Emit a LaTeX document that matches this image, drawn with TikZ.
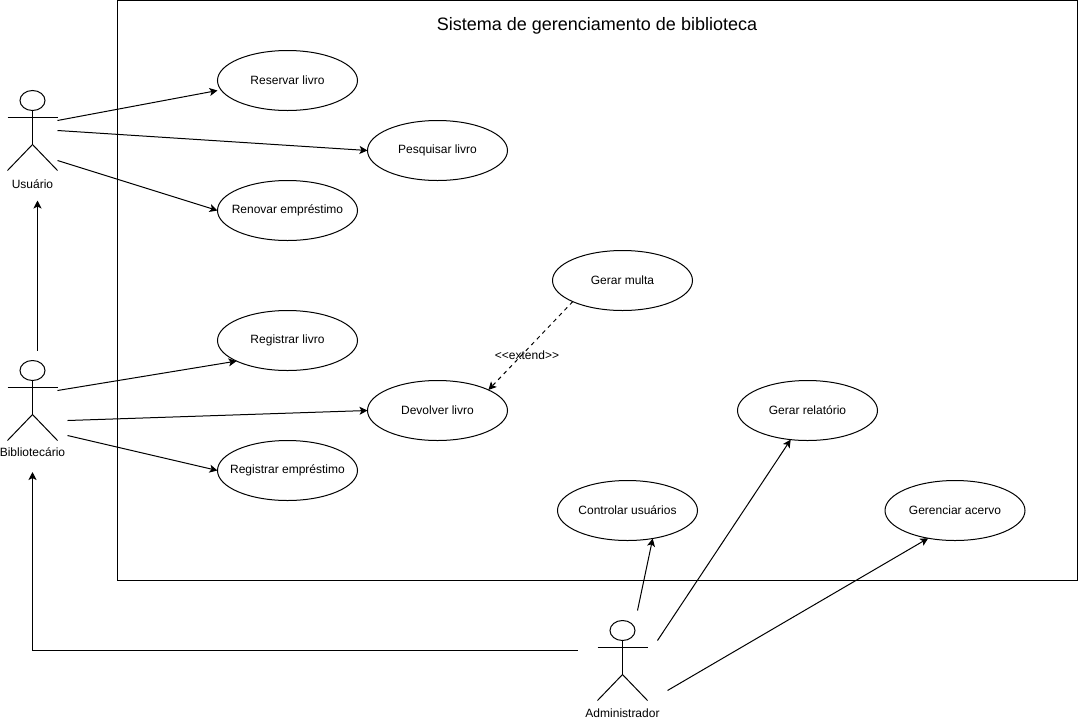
\documentclass[tikz,border=0pt]{standalone}
\usepackage{fontspec}
\setmainfont{Liberation Sans}
\usetikzlibrary{arrows.meta}
\usetikzlibrary{shapes.geometric}
\tikzset{l/.style={font=\fontsize{9}{9}\selectfont}}
\tikzset{t/.style={font=\fontsize{13.5}{13.5}\selectfont}}
\tikzset{uc/.style={l,draw,ellipse,minimum width=105pt,minimum height=45pt,inner xsep=-8pt,inner ysep=0pt,outer sep=0pt}}
\tikzset{actor/.pic={
  \draw (0,-17) ellipse (12.5 and 10);
  \draw (-25,0)--(25,0);
  \draw (0,-7)--(0,27);
  \draw (-25,53)--(0,27)--(25,53);
}}

\begin{document}
\begin{tikzpicture}[x=0.75pt,y=-0.75pt,line width=0.75pt,>={Stealth[length=6pt,width=6pt,inset=1.5pt]}]
          \useasboundingbox (0,0) rectangle (1078,722);
          \draw (117.5,0.5) rectangle (1077.5,580.5);
          \node [t] (title) at (597,26) {Sistema de gerenciamento de biblioteca};
          % atores
          \pic at (32.5,117.5) {actor};
          \pic at (32.5,387.5) {actor};
          \pic at (622.5,647.5) {actor};
          \node [l] (usuario) at (32.5,184) {Usuário};
          \node [l] (bibliotecario) at (32.5,452) {Bibliotecário};
          \node [l] (administrador) at (622.5,713) {Administrador};
          % casos de uso
          \node [uc] (reservar) at (287.5,80.5) {Reservar livro};
          \node [uc] (pesquisar) at (437.5,150.5) {Pesquisar livro};
          \node [uc] (renovar) at (287.5,210.5) {Renovar empréstimo};
          \node [uc] (registrar) at (287.5,340.5) {Registrar livro};
          \node [uc] (devolver) at (437.5,410.5) {Devolver livro};
          \node [uc] (emprestimo) at (287.5,470.5) {Registrar empréstimo};
          \node [uc] (multa) at (622.5,280.5) {Gerar multa};
          \node [uc] (relatorio) at (807.5,410.5) {Gerar relatório};
          \node [uc] (controlar) at (627.5,510.5) {Controlar usuários};
          \node [uc] (acervo) at (955,510.5) {Gerenciar acervo};
          % pontas soltas
          \coordinate (u1) at (57.5,120.5);
          \coordinate (u2) at (57.5,130.5);
          \coordinate (u3) at (57.5,160.5);
          \coordinate (ub) at (37.5,200.5);
          \coordinate (b0) at (37.5,350.5);
          \coordinate (b1) at (57.5,390.5);
          \coordinate (b2) at (67.5,420.5);
          \coordinate (b3) at (67.5,435.5);
          \coordinate (ba) at (32.5,472);
          \coordinate (a0) at (577.5,650.5);
          \coordinate (a1) at (637.5,610.5);
          \coordinate (a2) at (657.5,640.5);
          \coordinate (a3) at (667.5,690.5);
          \coordinate (ur) at (217.5,90.5);
          % ligacoes
          \draw [->] (u1)--(ur);
          \draw [->] (u2)--(pesquisar.west);
          \draw [->] (u3)--(renovar.west);
          \draw [->] (b0)--(ub);
          \draw [->] (b1)--(registrar.202);
          \draw [->] (b2)--(devolver.west);
          \draw [->] (b3)--(emprestimo.west);
          \draw [->] (a0)-|(ba);
          \draw [->] (a1)--(controlar.-48);
          \draw [->] (a2)--(relatorio.240);
          \draw [->] (a3)--(acervo.226);
          \draw [->,dashed] (multa.203)--(devolver.22);
          \node [l] (ext) at (527,355) {<{}<extend>{}>};
        \end{tikzpicture}
\end{document}
